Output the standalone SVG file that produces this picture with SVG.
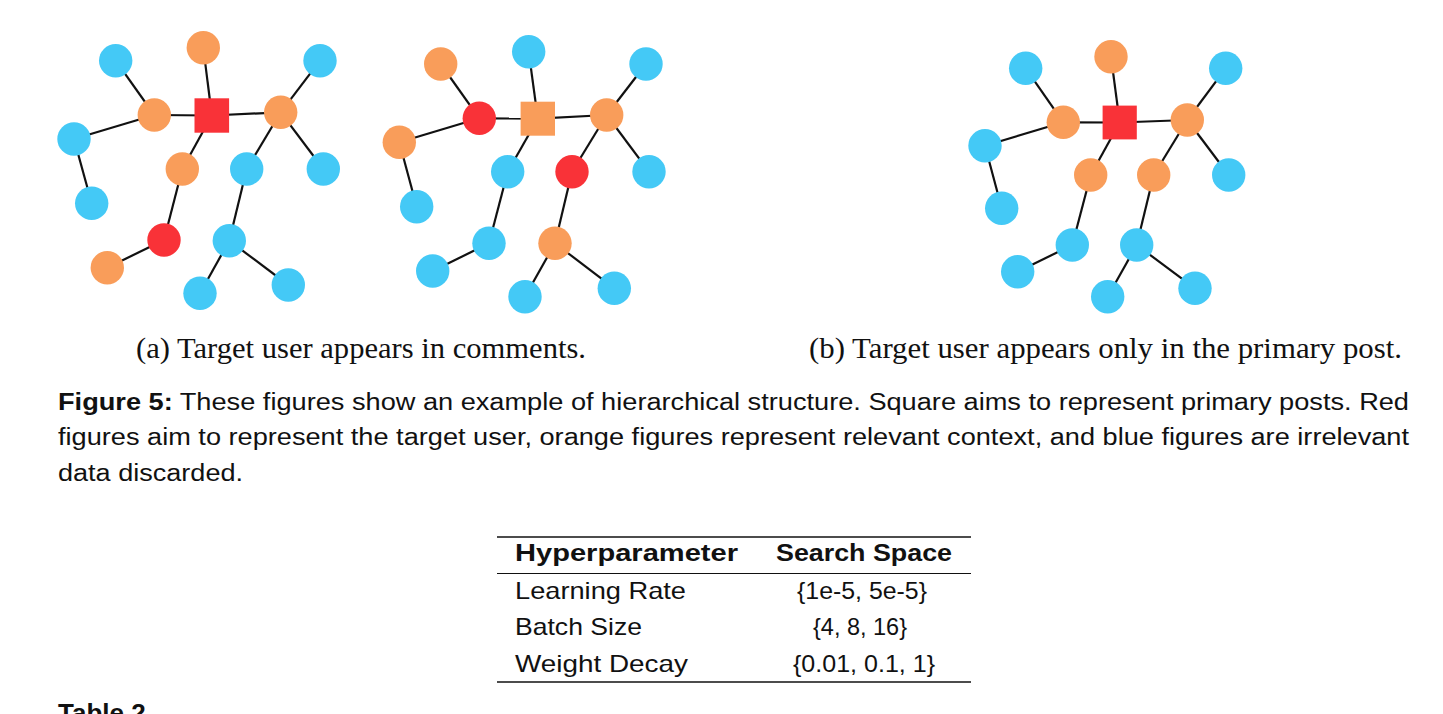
<svg xmlns="http://www.w3.org/2000/svg" width="1443" height="714" viewBox="0 0 1443 714">
<style>
.b{fill:#44C9F6}
.o{fill:#F99D5A}
.r{fill:#F93238}
.e line{stroke:#111;stroke-width:2.2}
.serif{font-family:"Liberation Serif","Times New Roman",serif;fill:#111}
.sans{font-family:"Liberation Sans",Arial,sans-serif;fill:#111}
.rule{stroke:#111}
</style>
<rect width="1443" height="714" fill="#fff"/>

<!-- Graph A1 connectors -->
<g id="edges-a1" class="e">
<line x1="115.7" y1="60.7" x2="154.3" y2="115"/>
<line x1="203.3" y1="47.7" x2="211.8" y2="115.5"/>
<line x1="154.3" y1="115" x2="211.8" y2="115.5"/>
<line x1="211.8" y1="115.5" x2="280.7" y2="112.3"/>
<line x1="280.7" y1="112.3" x2="320" y2="60.7"/>
<line x1="280.7" y1="112.3" x2="323.3" y2="169"/>
<line x1="154.3" y1="115" x2="74" y2="139"/>
<line x1="74" y1="139" x2="91.7" y2="203.3"/>
<line x1="211.8" y1="115.5" x2="182.3" y2="169"/>
<line x1="182.3" y1="169" x2="164" y2="240"/>
<line x1="164" y1="240" x2="107.3" y2="267.7"/>
<line x1="280.7" y1="112.3" x2="246.7" y2="169"/>
<line x1="246.7" y1="169" x2="229.3" y2="240.7"/>
<line x1="229.3" y1="240.7" x2="200" y2="293.3"/>
<line x1="229.3" y1="240.7" x2="288.3" y2="285"/>
</g>
<!-- Graph A2 connectors -->
<g id="edges-a2" class="e">
<line x1="440.7" y1="64" x2="479.3" y2="118.3"/>
<line x1="479.3" y1="118.3" x2="399.3" y2="142.3"/>
<line x1="479.3" y1="118.3" x2="537.8" y2="118.7"/>
<line x1="528.7" y1="51.7" x2="537.8" y2="118.7"/>
<line x1="537.8" y1="118.7" x2="606.7" y2="115"/>
<line x1="606.7" y1="115" x2="646" y2="64"/>
<line x1="606.7" y1="115" x2="649" y2="171.7"/>
<line x1="606.7" y1="115" x2="572" y2="171.7"/>
<line x1="572" y1="171.7" x2="555" y2="243.3"/>
<line x1="555" y1="243.3" x2="525" y2="296.7"/>
<line x1="555" y1="243.3" x2="614.3" y2="288.3"/>
<line x1="537.8" y1="118.7" x2="507.7" y2="171.7"/>
<line x1="507.7" y1="171.7" x2="489" y2="243.3"/>
<line x1="489" y1="243.3" x2="432.7" y2="271"/>
<line x1="399.3" y1="142.3" x2="416.7" y2="206.7"/>
</g>
<!-- Graph B connectors -->
<g id="edges-b" class="e">
<line x1="1025.7" y1="68.3" x2="1063.3" y2="122.3"/>
<line x1="1111" y1="56.7" x2="1119.7" y2="122.5"/>
<line x1="1063.3" y1="122.3" x2="1119.7" y2="122.5"/>
<line x1="1119.7" y1="122.5" x2="1187.3" y2="120"/>
<line x1="1187.3" y1="120" x2="1225.7" y2="68.3"/>
<line x1="1187.3" y1="120" x2="1228.7" y2="175"/>
<line x1="1063.3" y1="122.3" x2="985" y2="145.7"/>
<line x1="985" y1="145.7" x2="1001.7" y2="208.3"/>
<line x1="1119.7" y1="122.5" x2="1090.7" y2="175"/>
<line x1="1090.7" y1="175" x2="1072.3" y2="245"/>
<line x1="1072.3" y1="245" x2="1017.7" y2="271.7"/>
<line x1="1187.3" y1="120" x2="1153.7" y2="175"/>
<line x1="1153.7" y1="175" x2="1136.7" y2="245"/>
<line x1="1136.7" y1="245" x2="1107.7" y2="296.7"/>
<line x1="1136.7" y1="245" x2="1195" y2="288.3"/>
</g>

<!-- Graph A1 nodes -->
<g id="a1-n1"><circle class="b" cx="115.7" cy="60.7" r="16.7"/></g>
<g id="a1-n2"><circle class="o" cx="203.3" cy="47.7" r="16.7"/></g>
<g id="a1-n3"><circle class="b" cx="320" cy="60.7" r="16.7"/></g>
<g id="a1-n4"><circle class="o" cx="154.3" cy="115" r="16.7"/></g>
<g id="a1-sq"><rect class="r" x="194.5" y="98.3" width="34.6" height="34.4"/></g>
<g id="a1-n5"><circle class="o" cx="280.7" cy="112.3" r="16.7"/></g>
<g id="a1-n6"><circle class="b" cx="74" cy="139" r="16.7"/></g>
<g id="a1-n7"><circle class="o" cx="182.3" cy="169" r="16.7"/></g>
<g id="a1-n8"><circle class="b" cx="246.7" cy="169" r="16.7"/></g>
<g id="a1-n9"><circle class="b" cx="323.3" cy="169" r="16.7"/></g>
<g id="a1-n10"><circle class="b" cx="91.7" cy="203.3" r="16.7"/></g>
<g id="a1-n11"><circle class="r" cx="164" cy="240" r="16.7"/></g>
<g id="a1-n12"><circle class="b" cx="229.3" cy="240.7" r="16.7"/></g>
<g id="a1-n13"><circle class="o" cx="107.3" cy="267.7" r="16.7"/></g>
<g id="a1-n14"><circle class="b" cx="200" cy="293.3" r="16.7"/></g>
<g id="a1-n15"><circle class="b" cx="288.3" cy="285" r="16.7"/></g>

<!-- Graph A2 nodes -->
<g id="a2-n1"><circle class="o" cx="440.7" cy="64" r="16.7"/></g>
<g id="a2-n2"><circle class="b" cx="528.7" cy="51.7" r="16.7"/></g>
<g id="a2-n3"><circle class="b" cx="646" cy="64" r="16.7"/></g>
<g id="a2-n4"><circle class="r" cx="479.3" cy="118.3" r="16.7"/></g>
<g id="a2-sq"><rect class="o" x="520.6" y="101.7" width="34.4" height="34"/></g>
<g id="a2-n5"><circle class="o" cx="606.7" cy="115" r="16.7"/></g>
<g id="a2-n6"><circle class="o" cx="399.3" cy="142.3" r="16.7"/></g>
<g id="a2-n7"><circle class="b" cx="507.7" cy="171.7" r="16.7"/></g>
<g id="a2-n8"><circle class="r" cx="572" cy="171.7" r="16.7"/></g>
<g id="a2-n9"><circle class="b" cx="649" cy="171.7" r="16.7"/></g>
<g id="a2-n10"><circle class="b" cx="416.7" cy="206.7" r="16.7"/></g>
<g id="a2-n11"><circle class="b" cx="489" cy="243.3" r="16.7"/></g>
<g id="a2-n12"><circle class="o" cx="555" cy="243.3" r="16.7"/></g>
<g id="a2-n13"><circle class="b" cx="432.7" cy="271" r="16.7"/></g>
<g id="a2-n14"><circle class="b" cx="525" cy="296.7" r="16.7"/></g>
<g id="a2-n15"><circle class="b" cx="614.3" cy="288.3" r="16.7"/></g>

<!-- Graph B nodes -->
<g id="b-n1"><circle class="b" cx="1025.7" cy="68.3" r="16.7"/></g>
<g id="b-n2"><circle class="o" cx="1111" cy="56.7" r="16.7"/></g>
<g id="b-n3"><circle class="b" cx="1225.7" cy="68.3" r="16.7"/></g>
<g id="b-n4"><circle class="o" cx="1063.3" cy="122.3" r="16.7"/></g>
<g id="b-sq"><rect class="r" x="1102.6" y="105.6" width="34.2" height="33.8"/></g>
<g id="b-n5"><circle class="o" cx="1187.3" cy="120" r="16.7"/></g>
<g id="b-n6"><circle class="b" cx="985" cy="145.7" r="16.7"/></g>
<g id="b-n7"><circle class="o" cx="1090.7" cy="175" r="16.7"/></g>
<g id="b-n8"><circle class="o" cx="1153.7" cy="175" r="16.7"/></g>
<g id="b-n9"><circle class="b" cx="1228.7" cy="175" r="16.7"/></g>
<g id="b-n10"><circle class="b" cx="1001.7" cy="208.3" r="16.7"/></g>
<g id="b-n11"><circle class="b" cx="1072.3" cy="245" r="16.7"/></g>
<g id="b-n12"><circle class="b" cx="1136.7" cy="245" r="16.7"/></g>
<g id="b-n13"><circle class="b" cx="1017.7" cy="271.7" r="16.7"/></g>
<g id="b-n14"><circle class="b" cx="1107.7" cy="296.7" r="16.7"/></g>
<g id="b-n15"><circle class="b" cx="1195" cy="288.3" r="16.7"/></g>

<!-- Sub-captions -->
<text class="serif" x="136" y="357.5" font-size="29" textLength="450" lengthAdjust="spacingAndGlyphs">(a) Target user appears in comments.</text>
<text class="serif" x="809" y="357.5" font-size="29" textLength="593" lengthAdjust="spacingAndGlyphs">(b) Target user appears only in the primary post.</text>

<!-- Figure caption -->
<text class="sans" x="58" y="409.5" font-size="23.5" textLength="1351" lengthAdjust="spacingAndGlyphs"><tspan font-weight="bold">Figure 5:</tspan> These figures show an example of hierarchical structure. Square aims to represent primary posts. Red</text>
<text class="sans" x="58" y="445" font-size="23.5" textLength="1351" lengthAdjust="spacingAndGlyphs">figures aim to represent the target user, orange figures represent relevant context, and blue figures are irrelevant</text>
<text class="sans" x="58" y="480.5" font-size="23.5" textLength="185" lengthAdjust="spacingAndGlyphs">data discarded.</text>

<!-- Table -->
<line class="rule" x1="497" y1="537" x2="971" y2="537" stroke-width="1.4"/>
<line class="rule" x1="497" y1="573.5" x2="971" y2="573.5" stroke-width="1"/>
<line class="rule" x1="497" y1="682" x2="971" y2="682" stroke-width="1.4"/>
<text class="sans" x="515" y="561" font-size="24" font-weight="bold" textLength="223" lengthAdjust="spacingAndGlyphs">Hyperparameter</text>
<text class="sans" x="776" y="561" font-size="24" font-weight="bold" textLength="176" lengthAdjust="spacingAndGlyphs">Search Space</text>
<text class="sans" x="515" y="598.5" font-size="24" textLength="171" lengthAdjust="spacingAndGlyphs">Learning Rate</text>
<text class="sans" x="797" y="598.5" font-size="24" textLength="130" lengthAdjust="spacingAndGlyphs">{1e-5, 5e-5}</text>
<text class="sans" x="515" y="635" font-size="24" textLength="127" lengthAdjust="spacingAndGlyphs">Batch Size</text>
<text class="sans" x="813" y="635" font-size="24" textLength="94" lengthAdjust="spacingAndGlyphs">{4, 8, 16}</text>
<text class="sans" x="515" y="671.5" font-size="24" textLength="173" lengthAdjust="spacingAndGlyphs">Weight Decay</text>
<text class="sans" x="793" y="671.5" font-size="24" textLength="142" lengthAdjust="spacingAndGlyphs">{0.01, 0.1, 1}</text>

<text class="sans" x="58" y="722" font-size="26" font-weight="bold">Table 2</text>
</svg>
